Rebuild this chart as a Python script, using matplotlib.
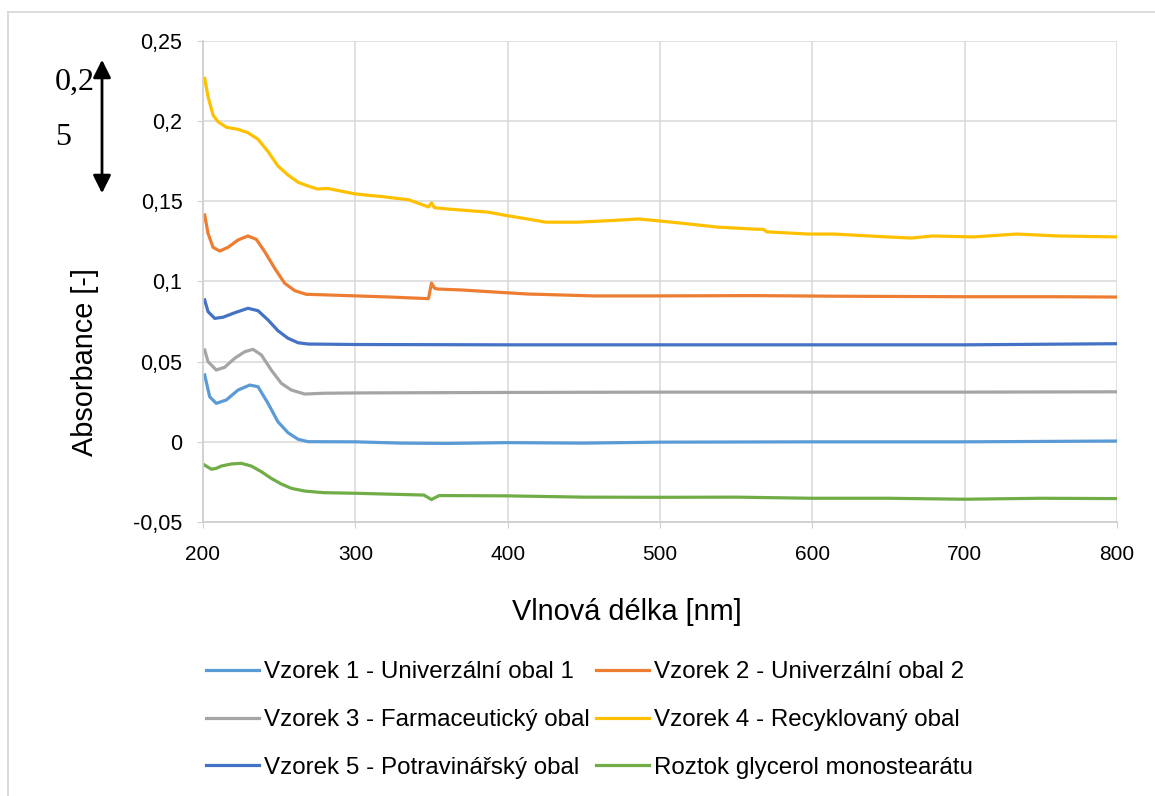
import matplotlib
matplotlib.use("Agg")
import matplotlib.pyplot as plt
from matplotlib.lines import Line2D
from matplotlib.patches import FancyArrowPatch

plt.rcParams['font.family'] = ['Liberation Sans', 'DejaVu Sans']

# values
x_v1 = [201.1, 204.4, 208.7, 215.3, 223, 230.7, 236.1, 242.7, 249.2, 255.8, 262.4, 268.9, 300, 330, 360, 400, 450, 500, 600, 700, 800]
y_v1 = [0.0417, 0.0281, 0.024, 0.0261, 0.0323, 0.0354, 0.0344, 0.024, 0.0125, 0.0057, 0.0016, 0.0001, 0.0, -0.0008, -0.001, -0.0005, -0.0008, -0.0002, 0.0, 0.0, 0.0005]

x_v2 = [201.1, 203.3, 206.6, 211, 216.4, 223, 229.5, 235, 240.5, 247.1, 253.6, 260.2, 267.8, 279, 301, 323, 348, 350, 352, 354,
        370, 392, 413, 457, 497, 560, 620, 700, 760, 800]
y_v2 = [0.1415, 0.13, 0.1213, 0.119, 0.1213, 0.1259, 0.1284, 0.1263, 0.1186, 0.1082, 0.0989, 0.0943, 0.092, 0.0917, 0.091, 0.0903, 0.0893, 0.099, 0.0958, 0.0953,
        0.0947, 0.0934, 0.0922, 0.091, 0.091, 0.0912, 0.0908, 0.0905, 0.0905, 0.0903]

x_v3 = [201.1, 203.3, 208.7, 214.2, 220.8, 227.4, 232.8, 238.3, 244.8, 251.4, 258, 266.8, 279, 301, 400, 500, 600, 700, 800]
y_v3 = [0.0573, 0.05, 0.0448, 0.0465, 0.0521, 0.0562, 0.0577, 0.0542, 0.0448, 0.0365, 0.0323, 0.0298, 0.0303, 0.0305, 0.0308, 0.031, 0.031, 0.031, 0.0312]

x_v4 = [201.1, 203.3, 206.6, 209.8, 215.3, 223, 229.5, 236.1, 242.7, 249.2, 255.8, 262.4, 268.9, 275, 282, 300, 317, 335, 348, 350, 352,
        361, 377, 387, 400, 413, 425, 446, 468, 486, 497, 513, 537, 561, 568, 570, 597, 614, 649, 665, 679, 706, 734, 761, 800]
y_v4 = [0.2267, 0.2153, 0.2038, 0.1997, 0.1962, 0.1949, 0.1928, 0.1887, 0.181, 0.172, 0.1664, 0.1619, 0.1596, 0.1577, 0.158, 0.1546, 0.153, 0.151, 0.1465, 0.149, 0.146,
        0.1452, 0.144, 0.1433, 0.141, 0.139, 0.137, 0.137, 0.138, 0.139, 0.138, 0.1365, 0.134, 0.1327, 0.1325, 0.131, 0.1296, 0.1296, 0.1278, 0.1271, 0.1284, 0.1278, 0.1296, 0.1284, 0.1278]

x_v5 = [201.1, 203.3, 207.7, 213.1, 220.8, 229.5, 236.1, 242.7, 249.2, 255.8, 262.4, 268.9, 301, 400, 500, 600, 700, 800]
y_v5 = [0.0885, 0.0812, 0.077, 0.0777, 0.0805, 0.0833, 0.0818, 0.076, 0.0693, 0.0646, 0.0618, 0.061, 0.0607, 0.0605, 0.0605, 0.0605, 0.0605, 0.0612]

x_gly = [201.1, 205.5, 208.7, 212, 218.6, 225.1, 231.7, 238.3, 244.8, 251.4, 258, 266.8, 279, 301, 345, 350, 355, 400, 450, 500, 550, 600, 650, 700, 750, 800]
y_gly = [-0.0145, -0.0171, -0.0165, -0.0151, -0.0138, -0.0134, -0.0151, -0.0186, -0.0228, -0.0263, -0.029, -0.0307, -0.0317, -0.0321, -0.0332, -0.036, -0.0335,
         -0.0337, -0.0345, -0.0346, -0.0345, -0.0352, -0.0352, -0.0358, -0.0352, -0.0354]

labels = ["Vzorek 1 - Univerzální obal 1", "Vzorek 2 - Univerzální obal 2", "Vzorek 3 - Farmaceutický obal",
          "Vzorek 4 - Recyklovaný obal", "Vzorek 5 - Potravinářský obal", "Roztok glycerol monostearátu"]
colors = ["#5B9BD5", "#ED7D31", "#A5A5A5", "#FFC000", "#4472C4", "#70AD47"]

xticks = [200, 300, 400, 500, 600, 700, 800]
yticks = [-0.05, 0, 0.05, 0.1, 0.15, 0.2, 0.25]
ytick_labels = ["-0,05", "0", "0,05", "0,1", "0,15", "0,2", "0,25"]

W, H = 1155, 796
fig = plt.figure(figsize=(W / 100, H / 100), dpi=100)
ax = fig.add_axes([203 / W, (H - 522) / H, 914 / W, 481 / H])

series = [(x_v1, y_v1), (x_v2, y_v2), (x_v3, y_v3), (x_v4, y_v4), (x_v5, y_v5), (x_gly, y_gly)]
handles = []
for (xs, ys), lab, c in zip(series, labels, colors):
    h, = ax.plot(xs, ys, color=c, lw=2.3, label=lab, solid_joinstyle='round')
    handles.append(h)

ax.set_xlim(200, 800)
ax.set_ylim(-0.05, 0.25)
ax.set_xticks(xticks)
ax.set_yticks(yticks)
ax.set_yticklabels(ytick_labels)
ax.grid(True, color="#d9d9d9", lw=1.1)
ax.set_axisbelow(True)
for s in ["top", "right"]:
    ax.spines[s].set_visible(False)
for s in ["left", "bottom"]:
    ax.spines[s].set_color("#d0d0d0")
    ax.spines[s].set_linewidth(1.3)
ax.tick_params(axis="y", length=4.3, color="#d0d0d0", labelsize=15.5, pad=10.5)
ax.tick_params(axis="x", length=4.3, color="#d0d0d0", labelsize=15, pad=12)

fig.text(627 / W, (H - 620) / H, "Vlnová délka [nm]", ha="center", va="baseline", fontsize=20.8)
fig.text(85 / W, (H - 362) / H, "Absorbance [-]", ha="center", va="center", rotation=90, fontsize=20.8)

# legend in two columns, rows ordered like the original
leg_kw = dict(loc="center left", frameon=False, fontsize=17.4, handlelength=2.2, handletextpad=0.2,
              borderpad=0, borderaxespad=0, labelspacing=1.07)
leg1 = fig.legend([handles[0], handles[2], handles[4]], [labels[0], labels[2], labels[4]],
                  bbox_to_anchor=(206 / W, (H - 720) / H), **leg_kw)
leg2 = fig.legend([handles[1], handles[3], handles[5]], [labels[1], labels[3], labels[5]],
                  bbox_to_anchor=(596 / W, (H - 720) / H), **leg_kw)

# stray annotation at top left
fig.text(55 / W, (H - 90) / H, "0,2", family="Liberation Serif", fontsize=23, va="baseline")
fig.text(55 / W, (H - 145) / H, "5", family="Liberation Serif", fontsize=23, va="baseline")
arr = FancyArrowPatch((102 / W, (H - 57) / H), (102 / W, (H - 196) / H), transform=fig.transFigure,
                      arrowstyle="<|-|>,head_length=0.6,head_width=0.3", mutation_scale=18,
                      color="black", lw=2)
fig.patches.append(arr)

# chart border
fig.add_artist(Line2D([8 / W, 8 / W], [0, (H - 12) / H], transform=fig.transFigure, color="#d9d9d9", lw=1.3))
fig.add_artist(Line2D([8 / W, 1], [(H - 12) / H, (H - 12) / H], transform=fig.transFigure, color="#d9d9d9", lw=1.3))

fig.savefig("out.png", dpi=100)
plt.close()
